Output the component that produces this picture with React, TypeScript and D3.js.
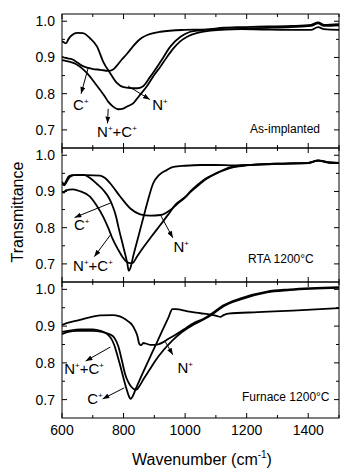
import * as d3 from "d3";

type Pt = [number, number];

// wavenumber (cm-1), transmittance
const asImplantedN: Pt[] = [
  [600, 0.945], [606, 0.942], [613, 0.939], [622, 0.952], [633, 0.962], [649, 0.968], [668, 0.967],
  [691, 0.953], [714, 0.93], [734, 0.888], [757, 0.856], [779, 0.829], [800, 0.818], [830, 0.815],
  [845, 0.815], [861, 0.819], [887, 0.847], [920, 0.888], [952, 0.93], [985, 0.957], [1017, 0.971],
  [1050, 0.975], [1083, 0.978], [1125, 0.982], [1180, 0.984], [1236, 0.985], [1344, 0.987],
  [1409, 0.99], [1432, 0.997], [1451, 0.99], [1500, 0.992],
];
const asImplantedC: Pt[] = [
  [600, 0.902], [615, 0.898], [633, 0.895], [650, 0.886], [668, 0.876], [685, 0.871], [701, 0.868],
  [725, 0.866], [750, 0.863], [765, 0.866], [779, 0.878], [795, 0.895], [812, 0.911], [830, 0.93],
  [845, 0.944], [861, 0.955], [877, 0.962], [920, 0.971], [995, 0.976], [1050, 0.977], [1100, 0.978],
  [1180, 0.979], [1236, 0.981], [1344, 0.984], [1409, 0.987], [1432, 0.994], [1451, 0.987], [1500, 0.989],
];
const asImplantedNC: Pt[] = [
  [600, 0.893], [615, 0.89], [626, 0.888], [645, 0.882], [659, 0.874], [675, 0.862], [691, 0.847],
  [708, 0.828], [724, 0.81], [737, 0.795], [750, 0.778], [765, 0.765], [783, 0.757], [799, 0.759],
  [815, 0.766], [832, 0.774], [850, 0.793], [877, 0.822], [900, 0.852], [920, 0.875], [940, 0.9],
  [962, 0.925], [985, 0.945], [1008, 0.958], [1040, 0.968], [1083, 0.974], [1130, 0.977], [1180, 0.978],
  [1250, 0.977], [1344, 0.976], [1409, 0.976], [1432, 0.984], [1451, 0.978], [1500, 0.976],
];

const rtaN: Pt[] = [
  [600, 0.927], [607, 0.92], [614, 0.93], [622, 0.942], [636, 0.945], [680, 0.945], [724, 0.944],
  [740, 0.937], [757, 0.922], [789, 0.886], [822, 0.853], [854, 0.837], [887, 0.833], [920, 0.835],
  [952, 0.849], [975, 0.866], [1000, 0.884], [1017, 0.9], [1040, 0.918], [1070, 0.937], [1100, 0.95],
  [1125, 0.96], [1158, 0.969], [1200, 0.973], [1236, 0.975], [1300, 0.977], [1400, 0.979],
  [1432, 0.986], [1470, 0.98], [1500, 0.979],
];
const rtaC: Pt[] = [
  [600, 0.922], [607, 0.917], [614, 0.925], [625, 0.94], [640, 0.945], [670, 0.946], [691, 0.937],
  [712, 0.922], [734, 0.904], [750, 0.886], [763, 0.863], [775, 0.833], [783, 0.803], [799, 0.748],
  [812, 0.702], [817, 0.681], [822, 0.688], [831, 0.72], [848, 0.775], [865, 0.83], [880, 0.878],
  [896, 0.922], [915, 0.945], [940, 0.959], [962, 0.968], [1000, 0.971], [1050, 0.973], [1100, 0.973],
  [1158, 0.972], [1200, 0.973], [1300, 0.977], [1400, 0.979], [1432, 0.985], [1470, 0.98], [1500, 0.979],
];
const rtaNC: Pt[] = [
  [600, 0.899], [606, 0.897], [612, 0.903], [636, 0.906], [660, 0.9], [691, 0.886], [712, 0.862],
  [734, 0.83], [750, 0.8], [766, 0.766], [782, 0.74], [796, 0.72], [810, 0.706], [822, 0.702],
  [830, 0.703], [845, 0.722], [864, 0.745], [890, 0.775], [920, 0.808], [945, 0.836], [968, 0.863],
  [1000, 0.884], [1017, 0.898], [1040, 0.915], [1070, 0.935], [1100, 0.949], [1125, 0.958],
  [1158, 0.967], [1200, 0.972], [1236, 0.974], [1300, 0.976], [1400, 0.978], [1432, 0.985],
  [1470, 0.979], [1500, 0.978],
];

const furnaceN: Pt[] = [
  [600, 0.903], [615, 0.908], [649, 0.915], [690, 0.924], [724, 0.929], [766, 0.93], [785, 0.927],
  [799, 0.922], [815, 0.913], [828, 0.903], [838, 0.888], [845, 0.873], [851, 0.852], [857, 0.848],
  [864, 0.854], [875, 0.852], [887, 0.849], [903, 0.849], [915, 0.851], [926, 0.855], [945, 0.865],
  [970, 0.877], [1000, 0.893], [1027, 0.908], [1060, 0.92], [1083, 0.932], [1123, 0.956],
  [1178, 0.975], [1266, 0.994], [1340, 1.0], [1500, 1.006],
];
const furnaceC: Pt[] = [
  [600, 0.884], [625, 0.888], [660, 0.891], [700, 0.891], [725, 0.887], [747, 0.878], [760, 0.866],
  [770, 0.848], [780, 0.82], [790, 0.79], [800, 0.758], [810, 0.728], [818, 0.708], [823, 0.702],
  [829, 0.708], [840, 0.73], [903, 0.846], [945, 0.922], [959, 0.946], [970, 0.946], [1008, 0.94],
  [1050, 0.935], [1083, 0.931], [1105, 0.927], [1115, 0.925], [1125, 0.93], [1140, 0.934],
  [1236, 0.938], [1350, 0.942], [1500, 0.949],
];
const furnaceNC: Pt[] = [
  [600, 0.878], [620, 0.884], [650, 0.887], [700, 0.887], [730, 0.884], [755, 0.878], [770, 0.868],
  [783, 0.845], [795, 0.805], [805, 0.77], [815, 0.748], [825, 0.735], [835, 0.728], [842, 0.727],
  [850, 0.735], [865, 0.756], [885, 0.782], [905, 0.808], [930, 0.835], [960, 0.862], [990, 0.884],
  [1027, 0.904], [1060, 0.918], [1083, 0.929], [1123, 0.953], [1178, 0.972], [1266, 0.992],
  [1340, 0.998], [1500, 1.004],
];

const xTicks = [600, 700, 800, 900, 1000, 1100, 1200, 1300, 1400, 1500];
const xLabels = [600, 800, 1000, 1200, 1400];
const yTicks = [0.7, 0.75, 0.8, 0.85, 0.9, 0.95, 1.0];
const yLabels = [0.7, 0.8, 0.9, 1.0];

// label: text, from: point on curve, to: arrow head, at: text baseline start
type Note = { label: string; from: Pt; to: Pt; at: Pt };

const asImplantedNotes: Note[] = [
  { label: "C+", from: [685, 0.871], to: [662, 0.8], at: [636, 0.755] },
  { label: "N+", from: [815, 0.821], to: [885, 0.784], at: [893, 0.755] },
  { label: "N++C+", from: [750, 0.758], to: [748, 0.718], at: [714, 0.68] },
];
const rtaNotes: Note[] = [
  { label: "C+", from: [757, 0.868], to: [641, 0.828], at: [639, 0.794] },
  { label: "N+", from: [920, 0.835], to: [960, 0.772], at: [962, 0.734] },
  { label: "N++C+", from: [760, 0.783], to: [705, 0.72], at: [636, 0.681] },
];
const furnaceNotes: Note[] = [
  { label: "N++C+", from: [757, 0.843], to: [677, 0.805], at: [607, 0.77] },
  { label: "N+", from: [936, 0.857], to: [960, 0.822], at: [975, 0.772] },
  { label: "C+", from: [802, 0.732], to: [732, 0.702], at: [682, 0.688] },
];

const panels = [
  { title: "As-implanted", series: [asImplantedN, asImplantedC, asImplantedNC], notes: asImplantedNotes, top: 14, h: 134, tx: 250, ty: 119 },
  { title: "RTA 1200°C", series: [rtaN, rtaC, rtaNC], notes: rtaNotes, top: 148, h: 134, tx: 248, ty: 115 },
  { title: "Furnace 1200°C", series: [furnaceN, furnaceC, furnaceNC], notes: furnaceNotes, top: 282, h: 136, tx: 242, ty: 119 },
];

const FONT = "'Liberation Sans', Arial, sans-serif";
const X0 = 62;
const X1 = 339;

function Label({ text, x, y }: { text: string; x: number; y: number }) {
  const sup = { fontSize: 8, dy: -6 };
  if (text === "N++C+") {
    return (
      <text x={x} y={y} fontSize={15} fontFamily={FONT}>
        N<tspan fontSize={sup.fontSize} dy={sup.dy}>+</tspan>
        <tspan dy={6}>+C</tspan>
        <tspan fontSize={sup.fontSize} dy={sup.dy}>+</tspan>
      </text>
    );
  }
  return (
    <text x={x} y={y} fontSize={15} fontFamily={FONT}>
      {text[0]}<tspan fontSize={sup.fontSize} dy={sup.dy}>+</tspan>
    </text>
  );
}

export default function App() {
  const x = d3.scaleLinear().domain([600, 1500]).range([X0, X1]);

  return (
    <svg width={341} height={470} style={{ position: "absolute", left: 0, top: 0, background: "#fff" }}>
      <defs>
        <marker id="head" viewBox="0 0 8 6" refX={8} refY={3} markerWidth={7} markerHeight={5} markerUnits="userSpaceOnUse" orient="auto">
          <path d="M0,0L8,3L0,6z" fill="#000" />
        </marker>
        {panels.map((p, i) => (
          <clipPath id={`clip${i}`} key={i}>
            <rect x={X0} y={p.top} width={X1 - X0} height={p.h} />
          </clipPath>
        ))}
      </defs>
      {panels.map((p, i) => {
        const y = d3.scaleLinear().domain([0.65, 1.02]).range([p.top + p.h, p.top]);
        const line = d3.line<Pt>().x(d => x(d[0])).y(d => y(d[1])).curve(d3.curveMonotoneX);
        const bottom = p.top + p.h;
        return (
          <g key={i}>
            <g clipPath={`url(#clip${i})`}>
              {p.series.map((s, j) => (
                <path key={j} d={line(s) ?? ""} fill="none" stroke="#000" strokeWidth={1.8} strokeLinejoin="round" />
              ))}
            </g>
            <rect x={X0} y={p.top} width={X1 - X0} height={p.h} fill="none" stroke="#000" strokeWidth={1} />
            {xTicks.map(t => {
              const len = t % 200 === 0 ? 5 : 3;
              return (
                <g key={t} stroke="#000" strokeWidth={1}>
                  <line x1={x(t)} x2={x(t)} y1={bottom} y2={bottom - len} />
                  <line x1={x(t)} x2={x(t)} y1={p.top} y2={p.top + len} />
                </g>
              );
            })}
            {yTicks.map(t => {
              const len = yLabels.some(v => Math.abs(v - t) < 1e-6) ? 5 : 3;
              return (
                <g key={t} stroke="#000" strokeWidth={1}>
                  <line x1={X0} x2={X0 + len} y1={y(t)} y2={y(t)} />
                  <line x1={X1} x2={X1 - len} y1={y(t)} y2={y(t)} />
                </g>
              );
            })}
            {yLabels.map(t => (
              <text key={t} x={55} y={y(t) + 5} textAnchor="end" fontSize={14} fontFamily={FONT}>
                {t.toFixed(1)}
              </text>
            ))}
            <text x={p.tx} y={p.top + p.ty} fontSize={12} fontFamily={FONT}>{p.title}</text>
            {p.notes.map((n, k) => (
              <g key={k}>
                <line x1={x(n.from[0])} y1={y(n.from[1])} x2={x(n.to[0])} y2={y(n.to[1])} stroke="#000" strokeWidth={1} markerEnd="url(#head)" />
                <Label text={n.label} x={x(n.at[0])} y={y(n.at[1])} />
              </g>
            ))}
          </g>
        );
      })}
      {xLabels.map(t => (
        <text key={t} x={x(t)} y={435} textAnchor="middle" fontSize={14} fontFamily={FONT}>{t}</text>
      ))}
      <text x={202} y={465} textAnchor="middle" fontSize={16} fontFamily={FONT}>
        Wavenumber (cm<tspan fontSize={10} dy={-7}>-1</tspan><tspan dy={7}>)</tspan>
      </text>
      <text transform="translate(23,212) rotate(-90)" textAnchor="middle" fontSize={16} fontFamily={FONT}>
        Transmittance
      </text>
    </svg>
  );
}
